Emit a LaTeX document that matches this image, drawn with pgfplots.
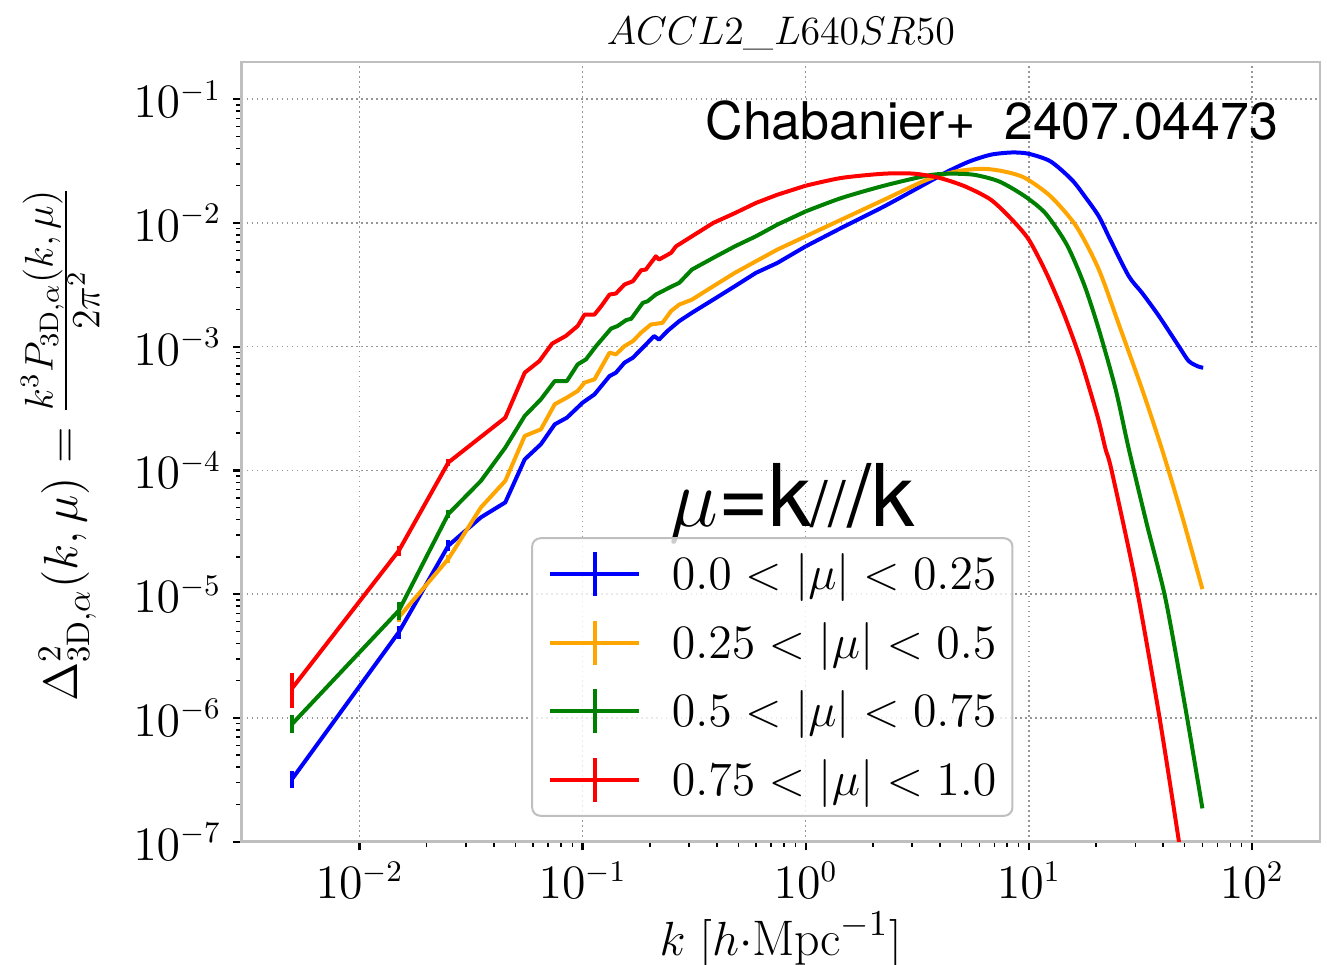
\documentclass[border=0pt]{standalone}
\usepackage{fontspec}
\usepackage{pgfplots}
\pgfplotsset{compat=1.18}
\newfontfamily\helv{TeX Gyre Heros}
\definecolor{mplorange}{RGB}{255,165,0}
\definecolor{mplgreen}{RGB}{0,128,0}
\definecolor{spinec}{RGB}{191,191,191}
\definecolor{gridc}{RGB}{150,150,150}
\pgfplotsset{
  errlegend/.style={legend image code/.code={
    \draw[#1,line width=1.2pt] (0pt,0pt) -- (26.7pt,0pt);
    \draw[#1,line width=1.2pt] (13.35pt,-6.6pt) -- (13.35pt,6.6pt);
    \path (36pt,0pt);}},
}
\begin{document}
\begin{tikzpicture}
\begin{axis}[
  name=ax,
  xmode=log, ymode=log,
  scale only axis, width=324pt, height=234.3pt,
  xmin=2.96e-3, xmax=202, ymin=1e-7, ymax=0.2,
  xtick={1e-2,1e-1,1,1e1,1e2},
  ytick={1e-7,1e-6,1e-5,1e-4,1e-3,1e-2,1e-1},
  xtick pos=left, ytick pos=left,
  tick align=outside,
  major tick length=2.6pt, minor tick length=1.6pt,
  every major tick/.append style={black, line width=0.7pt},
  every minor tick/.append style={black, line width=0.45pt},
  axis line style={spinec, line width=0.8pt},
  grid=major,
  major grid style={gridc, line width=0.45pt, dash pattern=on 0.45pt off 1.05pt},
  tick label style={font=\fontsize{13.5}{16}\selectfont},
  xlabel={$k\;\big[h{\cdot}\mathrm{Mpc}^{-1}\big]$},
  xlabel style={at={(0.5,-0.146)}, anchor=base, font=\fontsize{15}{18}\selectfont},
  ylabel={$\Delta^2_{\mathrm{3D},\alpha}(k,\mu)=\frac{\mbox{\fontsize{11.5}{13}\selectfont$k^3P_{\mathrm{3D},\alpha}(k,\mu)$}}{\mbox{\fontsize{11.5}{13}\selectfont$2\pi^2$}}$},
  ylabel style={at={(-0.1519,0.51)}, anchor=base, font=\fontsize{14}{17}\selectfont},
  legend cell align=left,
  legend style={at={(0.2685,0.3905)}, anchor=north west, draw=spinec, line width=0.6pt,
    rounded corners=2.5pt, fill=white, fill opacity=0.8, text opacity=1,
    font=\fontsize{15.5}{17}\selectfont, inner xsep=4.8pt, inner ysep=3.6pt,
    row sep=6.2pt, nodes={inner sep=0pt}},
  every axis plot/.append style={line width=1.2pt, line join=round, mark=none},
  error bars/error bar style={line width=1.2pt},
]
% ---- blue: 0.0 < |mu| < 0.25
\addplot[blue, errlegend=blue, error bars/.cd, y dir=both, y explicit, error mark=none] coordinates {
(0.005,3.24e-7) +- (0,0.5e-7)
(0.015,4.94e-6) +- (0,0.6e-6)
(0.025,2.47e-5) +- (0,2.5e-6)
(0.035,4.18e-5) (0.045,5.52e-5) (0.055,1.23e-4) (0.065,1.63e-4) (0.075,2.36e-4)
(0.085,2.67e-4) (0.1,3.53e-4) (0.113,4.12e-4) (0.132,5.79e-4) (0.141,6.17e-4)
(0.154,7.43e-4) (0.168,8.15e-4) (0.192,1.04e-3) (0.209,1.22e-3) (0.220,1.14e-3)
(0.240,1.34e-3) (0.271,1.61e-3) (0.309,1.88e-3) (0.385,2.40e-3) (0.481,3.08e-3)
(0.598,3.95e-3) (0.746,4.75e-3) (1.0,6.47e-3)
};
\addlegendentry{$0.0<|\mu|<0.25$}
\addplot[blue, smooth, tension=0.45, forget plot] coordinates {
(1.0,6.47e-3) (1.445,9.12e-3) (2.245,1.36e-2)
(3.49,2.10e-2) (4.34,2.61e-2) (5.42,3.14e-2) (6.76,3.56e-2) (8.4,3.71e-2)
(10.0,3.62e-2) (12.52,3.14e-2) (15.6,2.23e-2) (18.0,1.60e-2) (20.6,1.13e-2)
(23.2,7.3e-3) (28.07,3.71e-3) (32.2,2.72e-3) (38.3,1.77e-3) (47.0,1.01e-3)
(52.1,7.66e-4) (57.7,6.90e-4) (60.5,6.77e-4)
};
% ---- orange: 0.25 < |mu| < 0.5
\addplot[mplorange, errlegend=mplorange, error bars/.cd, y dir=both, y explicit, error mark=none] coordinates {
(0.015,6.52e-6) +- (0,0.6e-6)
(0.025,1.93e-5) +- (0,1.5e-6)
(0.035,5.03e-5) (0.045,8.24e-5) (0.055,1.90e-4) (0.065,2.15e-4) (0.075,3.43e-4)
(0.085,3.88e-4) (0.095,4.39e-4) (0.102,5.13e-4) (0.113,5.45e-4) (0.132,8.95e-4)
(0.141,8.67e-4) (0.154,1.01e-3) (0.168,1.11e-3) (0.183,1.30e-3) (0.202,1.51e-3)
(0.228,1.56e-3) (0.249,1.94e-3) (0.271,2.19e-3) (0.309,2.40e-3) (0.385,3.08e-3)
(0.481,3.95e-3) (0.598,4.90e-3) (0.746,6.09e-3) (1.0,7.80e-3)
};
\addlegendentry{$0.25<|\mu|<0.5$}
\addplot[mplorange, smooth, tension=0.45, forget plot] coordinates {
(1.0,7.80e-3) (1.445,1.064e-2)
(2.245,1.54e-2) (3.49,2.23e-2) (4.75,2.61e-2) (6.18,2.74e-2) (7.71,2.61e-2)
(9.61,2.31e-2) (12.52,1.64e-2) (16.32,9.40e-3) (20.6,4.20e-3) (25.8,1.38e-3)
(32.2,4.53e-4) (39.5,1.49e-4) (48.6,4.31e-5) (60,1.10e-5)
};
% ---- green: 0.5 < |mu| < 0.75
\addplot[mplgreen, errlegend=mplgreen, error bars/.cd, y dir=both, y explicit, error mark=none] coordinates {
(0.005,9.0e-7) +- (0,1.5e-7)
(0.015,7.38e-6) +- (0,1.2e-6)
(0.025,4.45e-5) +- (0,3e-6)
(0.035,8.24e-5) (0.045,1.53e-4) (0.055,2.76e-4) (0.065,3.76e-4) (0.075,5.28e-4)
(0.085,5.28e-4) (0.095,7.20e-4) (0.1035,7.90e-4) (0.1148,1.01e-3) (0.134,1.40e-3)
(0.1435,1.47e-3) (0.1565,1.64e-3) (0.165,1.68e-3) (0.186,2.26e-3) (0.1955,2.33e-3)
(0.213,2.64e-3) (0.228,2.81e-3) (0.249,3.05e-3) (0.271,3.28e-3) (0.309,4.20e-3)
(0.385,5.22e-3) (0.481,6.47e-3) (0.598,7.80e-3) (0.746,9.69e-3) (1.0,1.24e-2)
};
\addlegendentry{$0.5<|\mu|<0.75$}
\addplot[mplgreen, smooth, tension=0.45, forget plot] coordinates {
(1.0,1.24e-2)
(1.445,1.59e-2) (2.245,2.00e-2) (3.49,2.41e-2) (4.34,2.50e-2) (5.67,2.45e-2)
(7.38,2.16e-2) (9.61,1.64e-2) (11.9,1.19e-2) (14.8,6.68e-3) (17.7,3.18e-3)
(20.6,1.38e-3) (24.5,4.53e-4) (28.07,1.49e-4) (33.8,3.69e-5) (41.0,9.17e-6)
(50.4,1.19e-6) (60,1.86e-7)
};
% ---- red: 0.75 < |mu| < 1.0
\addplot[red, errlegend=red, error bars/.cd, y dir=both, y explicit, error mark=none] coordinates {
(0.005,1.75e-6) +- (0,0.55e-6)
(0.015,2.25e-5) +- (0,2.0e-6)
(0.025,1.16e-4) +- (0,8e-6)
(0.035,1.87e-4) (0.045,2.67e-4) (0.055,6.17e-4) (0.064,7.66e-4) (0.073,1.06e-3)
(0.084,1.22e-3) (0.095,1.47e-3) (0.102,1.82e-3) (0.113,1.82e-3) (0.121,2.12e-3)
(0.132,2.64e-3) (0.141,2.69e-3) (0.154,3.18e-3) (0.168,3.38e-3) (0.183,4.15e-3)
(0.192,4.20e-3) (0.213,5.38e-3) (0.220,5.06e-3) (0.249,5.73e-3) (0.262,6.47e-3)
(0.309,7.80e-3) (0.385,1.00e-2) (0.481,1.20e-2) (0.598,1.45e-2) (0.746,1.69e-2)
(1.0,2.00e-2)
};
\addlegendentry{$0.75<|\mu|<1.0$}
\addplot[red, smooth, tension=0.45, forget plot] coordinates {
(1.0,2.00e-2) (1.445,2.31e-2) (2.245,2.50e-2) (3.056,2.50e-2) (3.98,2.31e-2)
(5.19,1.97e-2) (6.76,1.54e-2) (8.40,1.064e-2) (10.0,7.33e-3) (11.97,3.95e-3)
(14.30,1.88e-3) (17.05,7.90e-4) (20.33,2.73e-4) (22.07,1.49e-4) (23.5,1.0e-4)
(30.1,1.25e-5) (38.3,1.08e-6) (47.0,1.03e-7) (60,5.6e-9)
};
\node[anchor=base west, inner sep=0pt, font=\helv\fontsize{15.6}{18}\selectfont] at (rel axis cs:0.4296,0.900) {Chabanier+\ \ 2407.04473};
\node[anchor=base west, inner sep=0pt, font=\helv\fontsize{26}{30}\selectfont] at (rel axis cs:0.3963,0.4046) {$\mu$=k\kern-0.02em{\fontsize{19}{20}\selectfont//}\kern0.02em/k};
\end{axis}
\node[anchor=base, inner sep=0pt, font=\fontsize{12.3}{14}\selectfont] at ([yshift=5.1pt]ax.north) {$ACCL2\_L640SR50$};
\pgfresetboundingbox
\path ([xshift=-72.6pt,yshift=-36.9pt]ax.south west) rectangle ([xshift=2.1pt,yshift=18.6pt]ax.north east);
\end{tikzpicture}
\end{document}
